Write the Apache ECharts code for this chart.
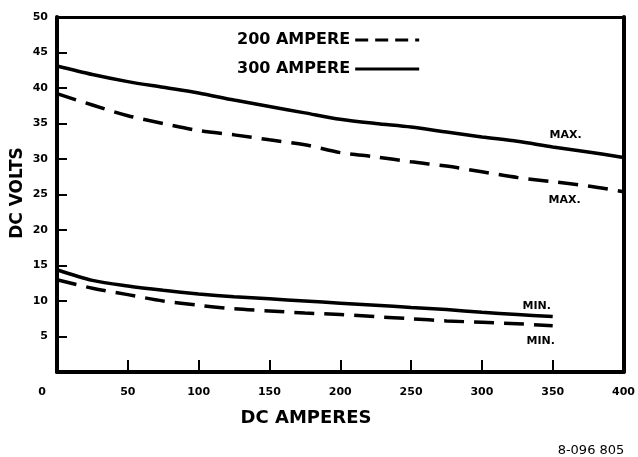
<!DOCTYPE html>
<html><head><meta charset="utf-8">
<script src="https://cdn.jsdelivr.net/npm/echarts@6/dist/echarts.min.js"></script>
<style>html,body{margin:0;padding:0;background:#fff}#c{width:638px;height:457px}</style>
</head><body><div id="c"></div>
<script>
// DC amperes sampled along the curves
const ampsFull = [0,25,50,75,100,125,150,175,200,225,250,275,300,325,350,375,400];
const ampsMin  = [0,25,50,75,100,125,150,175,200,225,250,275,300,325,350];
// DC volts
const max300 = [43.1,41.9,40.9,40.1,39.3,38.3,37.4,36.5,35.6,35.0,34.5,33.8,33.1,32.5,31.7,31.0,30.2];
const max200 = [39.2,37.6,36.1,35.0,34.0,33.4,32.7,32.0,30.9,30.3,29.6,29.0,28.2,27.4,26.8,26.2,25.4];
const min300 = [14.4,12.9,12.1,11.5,11.0,10.6,10.3,10.0,9.7,9.4,9.1,8.8,8.4,8.1,7.8];
const min200 = [13.0,11.8,10.9,10.0,9.4,8.9,8.6,8.3,8.1,7.8,7.5,7.2,7.0,6.8,6.5];
const legendNames = ['200 AMPERE','300 AMPERE'];
const maxText = 'MAX.', minText = 'MIN.';
const xTitle = 'DC AMPERES', yTitle = 'DC VOLTS', footnote = '8-096 805';

const TICKFONT = 'DejaVu Sans';
function pts(xs, ys, lbl) {
  return xs.map((x, i) => {
    if (lbl && i === xs.length - 1) {
      return {
        value: [x, ys[i]], symbol: 'circle', symbolSize: 1,
        itemStyle: {color: 'rgba(0,0,0,0)'},
        label: Object.assign({show: true, position: 'inside', color: '#000',
          fontFamily: 'DejaVu Sans', fontSize: 11, fontWeight: 'bold'}, lbl)
      };
    }
    return [x, ys[i]];
  });
}
const dashed = {color: '#000', width: 3.5, type: [20, 10], cap: 'butt'};
const solid = {color: '#000', width: 3.5, type: 'solid'};
const chart = echarts.init(document.getElementById('c'), null, {renderer: 'canvas'});
chart.setOption({
  animation: false,
  backgroundColor: '#fff',
  grid: {left: 57, right: 10, top: 17, bottom: 85},
  legend: {
    orient: 'vertical', left: 232, top: 27, align: 'right',
    itemWidth: 64, itemHeight: 14, itemGap: 13,
    itemStyle: {color: 'rgba(0,0,0,0)', borderWidth: 0, opacity: 0},
    textStyle: {fontFamily: 'DejaVu Sans', fontWeight: 'bold', fontSize: 16, color: '#000'},
    data: [
      {name: legendNames[0], lineStyle: {type: [13, 7], width: 3}},
      {name: legendNames[1], lineStyle: {width: 3}}
    ],
    selectedMode: false
  },
  xAxis: [{
    type: 'value', min: 0, max: 400, interval: 50,
    axisLine: {lineStyle: {color: '#000', width: 4}},
    axisTick: {inside: true, length: 12, lineStyle: {color: '#000', width: 2}},
    splitLine: {show: false},
    axisLabel: {
      margin: 15, color: '#000', fontFamily: TICKFONT, fontWeight: 'bold', fontSize: 11,
      formatter: v => v === 0 ? '{z|0}' : String(v),
      rich: {z: {padding: [0, 30, 0, 0], fontFamily: TICKFONT, fontWeight: 'bold', fontSize: 11, color: '#000'}}
    }
  }, {
    type: 'value', min: 0, max: 400, position: 'top',
    axisLine: {show: true, onZero: false, lineStyle: {color: '#000', width: 3}},
    axisTick: {show: false}, axisLabel: {show: false}, splitLine: {show: false}
  }],
  yAxis: [{
    type: 'value', min: 0, max: 50, interval: 5,
    axisLine: {show: true, lineStyle: {color: '#000', width: 4}},
    axisTick: {show: true, inside: true, length: 10, lineStyle: {color: '#000', width: 2}},
    splitLine: {show: false},
    axisLabel: {margin: 9, color: '#000', fontFamily: TICKFONT, fontWeight: 'bold', fontSize: 11,
      formatter: v => v === 0 ? '' : String(v)}
  }, {
    type: 'value', min: 0, max: 50, position: 'right',
    axisLine: {show: true, onZero: false, lineStyle: {color: '#000', width: 4}},
    axisTick: {show: false}, axisLabel: {show: false}, splitLine: {show: false}
  }],
  graphic: [
    {type: 'text', x: 306, y: 418, style: {text: xTitle, fill: '#000', align: 'center', verticalAlign: 'middle',
      font: 'bold 18px "DejaVu Sans"'}},
    {type: 'text', x: 18, y: 193, rotation: Math.PI / 2, style: {text: yTitle, fill: '#000', align: 'center', verticalAlign: 'middle',
      font: 'bold 17px "DejaVu Sans"'}},
    {type: 'text', x: 591, y: 451, style: {text: footnote, fill: '#000', align: 'center', verticalAlign: 'middle',
      font: '13px "DejaVu Sans"'}}
  ],
  series: [
    {name: legendNames[0], type: 'line', symbol: 'none', smooth: 0.3, lineStyle: dashed,
      data: pts(ampsFull, max200, {formatter: maxText, offset: [-59, 8]})},
    {name: legendNames[1], type: 'line', symbol: 'none', smooth: 0.3, lineStyle: solid,
      data: pts(ampsFull, max300, {formatter: maxText, offset: [-58, -22]})},
    {name: legendNames[0], type: 'line', symbol: 'none', smooth: 0.3, lineStyle: dashed,
      data: pts(ampsMin, min200, {formatter: minText, offset: [-12, 15]})},
    {name: legendNames[1], type: 'line', symbol: 'none', smooth: 0.3, lineStyle: solid,
      data: pts(ampsMin, min300, {formatter: minText, offset: [-16, -10]})}
  ]
});
</script></body></html>
